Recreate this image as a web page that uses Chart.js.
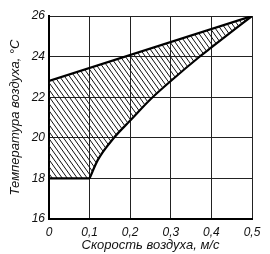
<!DOCTYPE html>
<html>
<head>
<meta charset="utf-8">
<script src="https://cdn.jsdelivr.net/npm/chart.js@4"></script>
<style>
  html, body { margin: 0; padding: 0; background: #fff; }
  #wrap { width: 270px; height: 254px; }
</style>
</head>
<body>
<div id="wrap"><canvas id="chart" width="270" height="254"></canvas></div>
<script>
// tick labels
const xTickLabels = ['0', '0,1', '0,2', '0,3', '0,4', '0,5'];
const yTickLabels = ['16', '18', '20', '22', '24', '26'];

// upper boundary (straight line)
const upperSpeed = [0, 0.5];
const upperTemp = [22.8, 26];

// lower boundary: flat part, then curve
const floorSpeed = [0, 0.1];
const floorTemp = [18, 18];
const curveSpeed = [0.1, 0.12, 0.16, 0.2, 0.25, 0.3, 0.37, 0.4, 0.5];
const curveTemp = [18, 18.9, 20, 20.85, 21.9, 22.8, 23.98, 24.45, 26];

const toPoints = (xs, ys) => xs.map((x, i) => ({ x, y: ys[i] }));

function hatchPattern() {
  const w = 5, h = 7;
  const c = document.createElement('canvas');
  c.width = w; c.height = h;
  const g = c.getContext('2d');
  g.strokeStyle = '#111';
  g.lineWidth = 1;
  for (const dx of [-w, 0, w]) {
    g.beginPath();
    g.moveTo(dx - w, -h);
    g.lineTo(dx + 2 * w, 2 * h);
    g.stroke();
  }
  return g.createPattern(c, 'repeat');
}

const ctx = document.getElementById('chart').getContext('2d');
const hatch = hatchPattern();
const tickFont = { family: 'Liberation Sans', size: 12, style: 'italic' };
const titleFont = { family: 'Liberation Sans', size: 13, style: 'italic' };

new Chart(ctx, {
  type: 'scatter',
  data: {
    datasets: [
      {
        data: toPoints(upperSpeed, upperTemp),
        showLine: true,
        borderColor: '#000',
        borderWidth: 2.2,
        pointRadius: 0,
        backgroundColor: hatch,
        fill: { target: 2 }
      },
      {
        data: toPoints(floorSpeed, floorTemp),
        showLine: true,
        borderColor: '#000',
        borderWidth: 2.2,
        pointRadius: 0,
        backgroundColor: hatch,
        fill: { target: 0 }
      },
      {
        data: toPoints(curveSpeed, curveTemp),
        showLine: true,
        cubicInterpolationMode: 'monotone',
        borderColor: '#000',
        borderWidth: 2.2,
        pointRadius: 0,
        fill: false
      }
    ]
  },
  options: {
    responsive: false,
    animation: false,
    layout: { padding: { top: 16, right: 18, left: 0, bottom: 0 } },
    plugins: {
      legend: { display: false },
      tooltip: { enabled: false }
    },
    scales: {
      x: {
        type: 'linear',
        min: 0,
        max: 0.5,
        afterFit: s => { s.height = 35; },
        ticks: {
          stepSize: 0.1,
          color: '#111',
          font: tickFont,
          padding: 6,
          maxRotation: 0,
          callback: (v) => xTickLabels[Math.round(v * 10)]
        },
        grid: { color: '#222', lineWidth: 1, drawTicks: false },
        border: { display: true, color: '#000', width: 2 },
        title: {
          display: true,
          text: 'Скорость воздуха, м/с',
          color: '#111',
          font: titleFont,
          padding: { top: 0, bottom: 1 }
        }
      },
      y: {
        type: 'linear',
        min: 16,
        max: 26,
        afterFit: s => { s.width = 49; },
        ticks: {
          stepSize: 2,
          color: '#111',
          font: tickFont,
          padding: 4,
          callback: (v) => yTickLabels[Math.round((v - 16) / 2)]
        },
        grid: { color: '#222', lineWidth: 1, drawTicks: false },
        border: { display: true, color: '#000', width: 2 },
        title: {
          display: true,
          text: 'Температура воздуха, °С',
          color: '#111',
          font: titleFont,
          padding: { top: 8, bottom: 0 }
        }
      }
    }
  }
});
</script>
</body>
</html>
